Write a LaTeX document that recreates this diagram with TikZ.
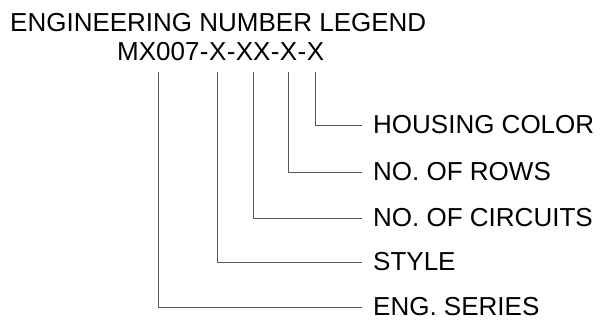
\documentclass[tikz,border=0pt]{standalone}
\usepackage{fontspec}
\setmainfont{Liberation Sans}
\usetikzlibrary{positioning}

\tikzset{
  legendtext/.style={font=\fontsize{26}{31}\selectfont, inner sep=0pt},
  part/.style={legendtext, inner ysep=11pt},
  field/.style={legendtext, anchor=west, inner xsep=11pt},
  leader/.style={draw=black!65, line width=1pt}
}

\begin{document}
\begin{tikzpicture}[x=1pt,y=-1pt]
\useasboundingbox (0,0) rectangle (605,329);
% heading
\node[legendtext, anchor=base west] (title) at (10,32) {ENGINEERING NUMBER LEGEND};
% the number, one node per field
\node[part, anchor=base west] (series) at (117,61) {MX007};
\node[part, base right=0pt of series] (dash1) {-};
\node[part, base right=0pt of dash1] (style) {X};
\node[part, base right=0pt of style] (dash2) {-};
\node[part, base right=0pt of dash2] (circuits) {XX};
\node[part, base right=0pt of circuits] (dash3) {-};
\node[part, base right=0pt of dash3] (rows) {X};
\node[part, base right=0pt of rows] (dash4) {-};
\node[part, base right=0pt of dash4] (color) {X};
% meaning of each field
\node[field] (colorlbl) at (362,125) {HOUSING COLOR};
\node[field] (rowslbl) at (362,172) {NO. OF ROWS};
\node[field] (circuitslbl) at (362,218) {NO. OF CIRCUITS};
\node[field] (stylelbl) at (362,262) {STYLE};
\node[field] (serieslbl) at (362,307) {ENG. SERIES};
% leaders
\draw[leader] (color.south) |- (colorlbl.west);
\draw[leader] (rows.south) |- (rowslbl.west);
\draw[leader] (circuits.south) |- (circuitslbl.west);
\draw[leader] (style.south) |- (stylelbl.west);
\draw[leader] (series.south) |- (serieslbl.west);
\end{tikzpicture}
\end{document}
